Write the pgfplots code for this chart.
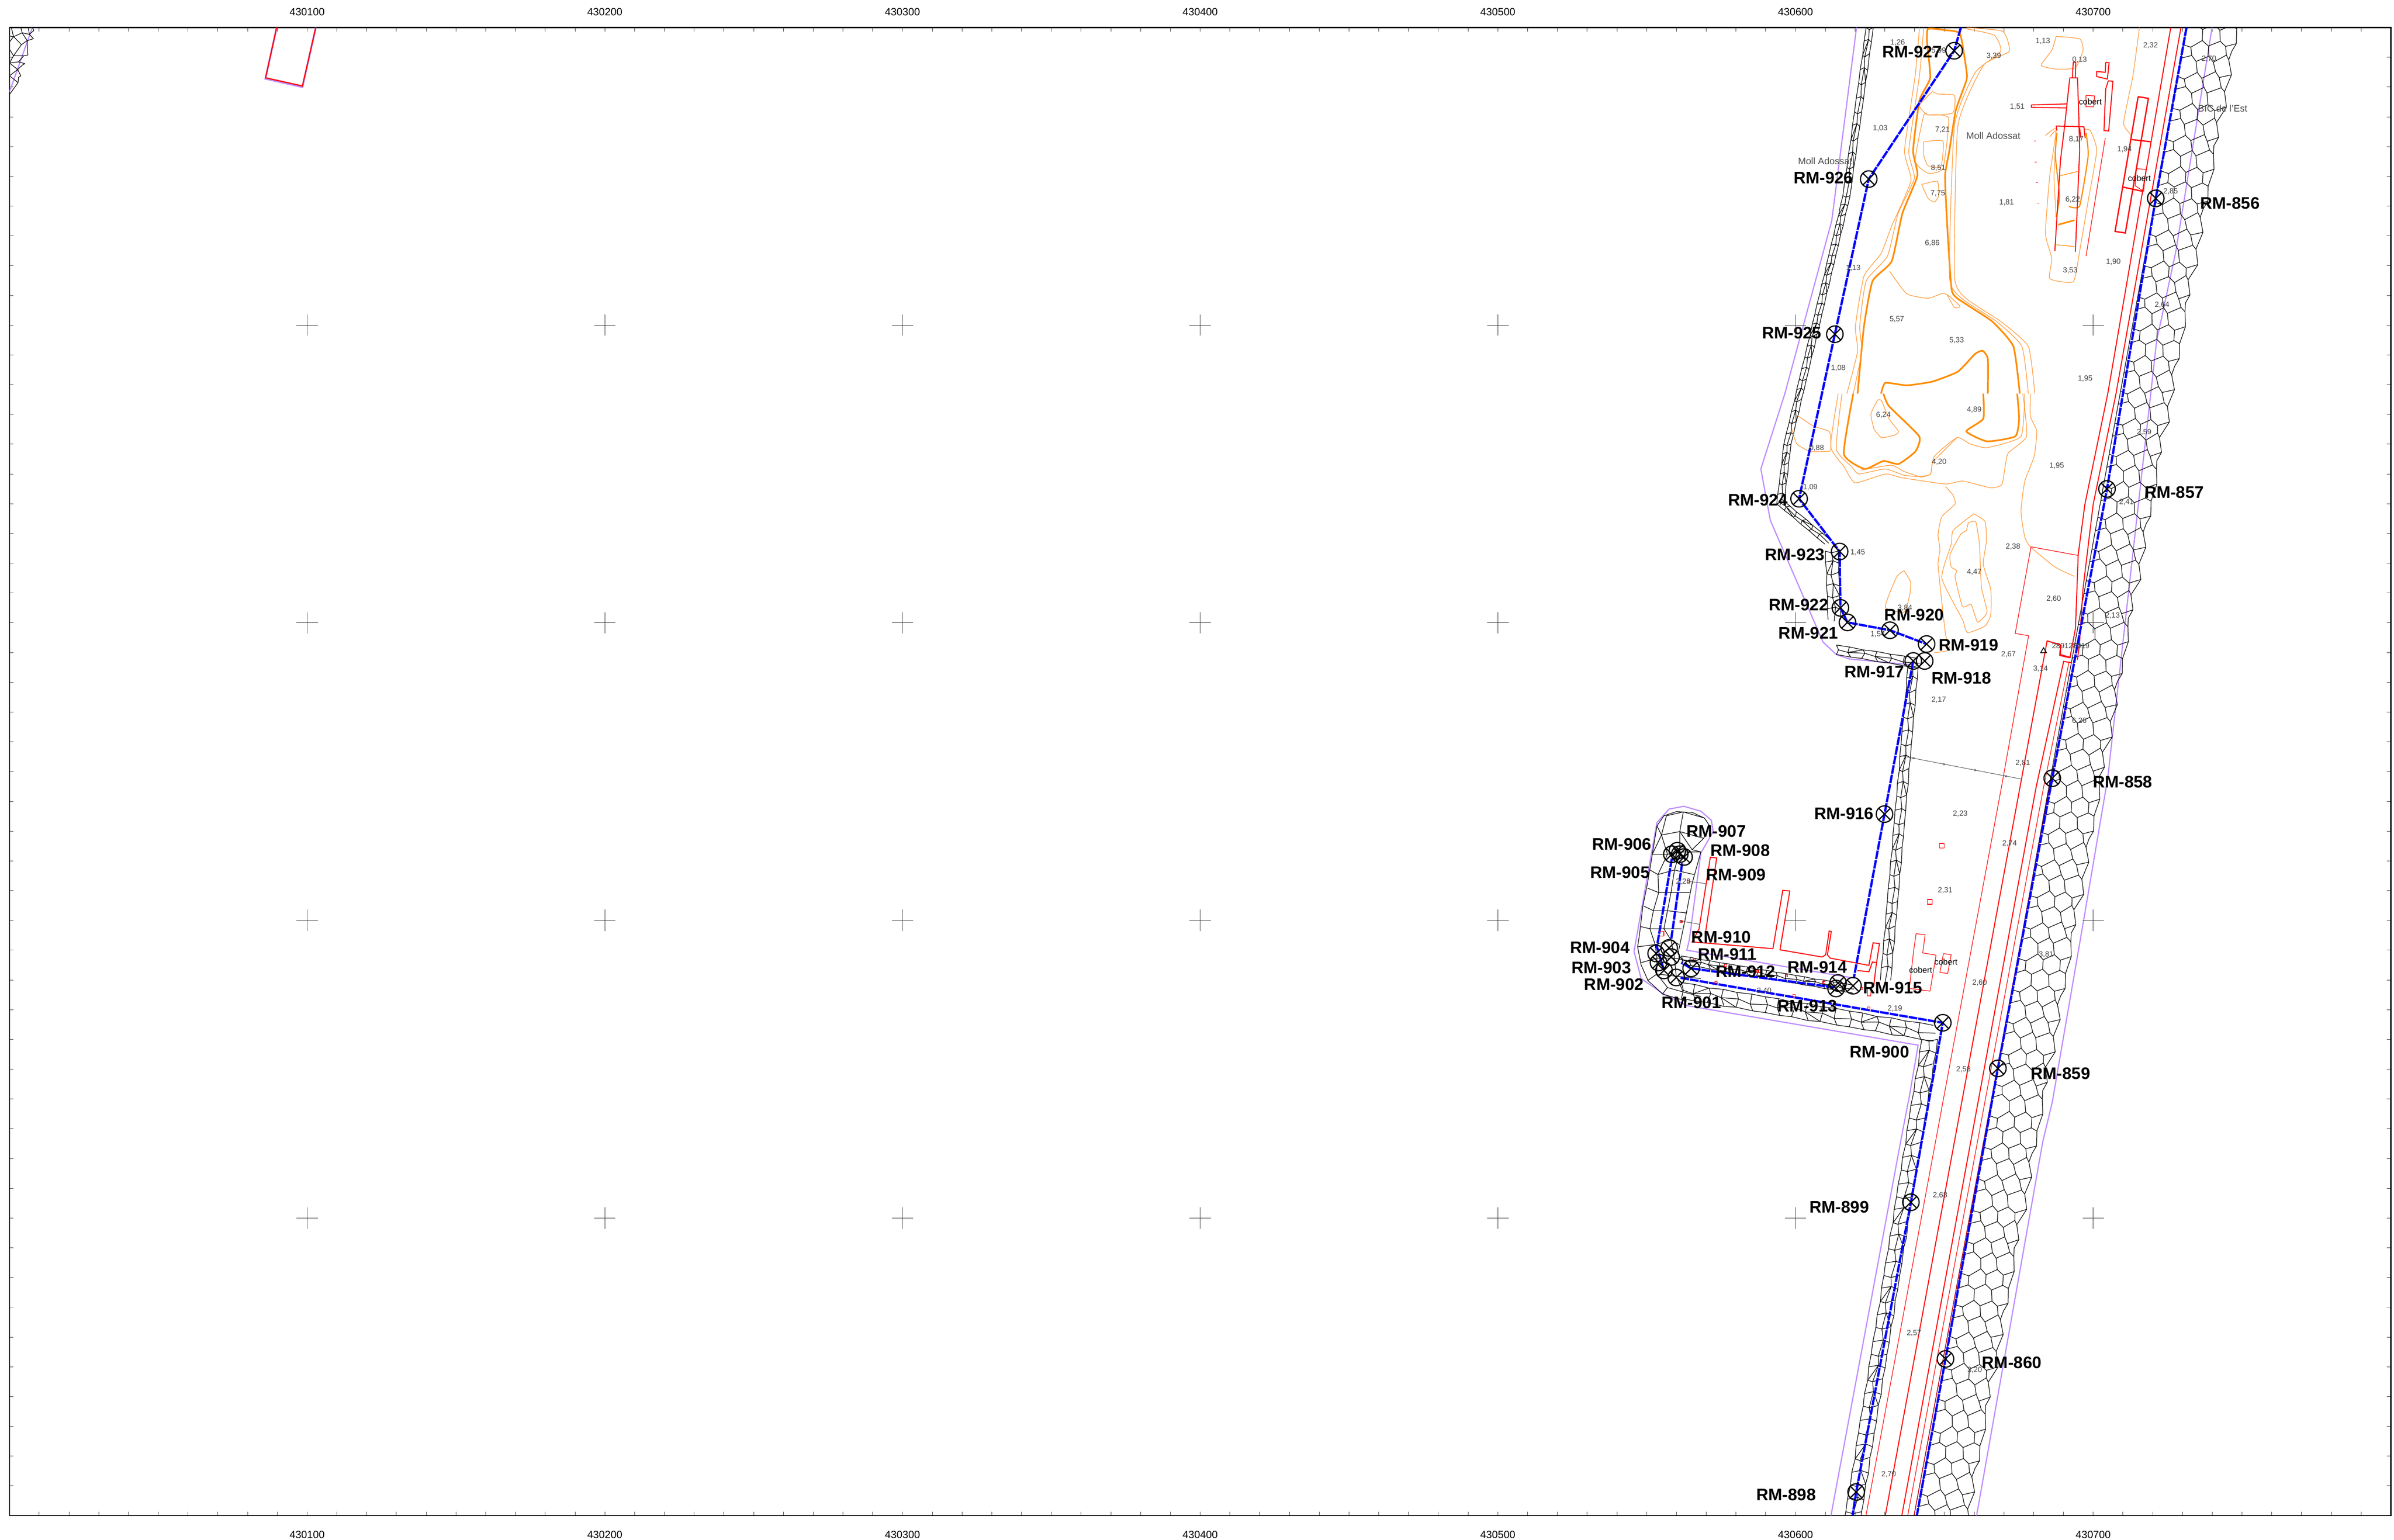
\documentclass[border=0pt]{standalone}
\usepackage{fontspec}
\setmainfont{Liberation Sans}
\usepackage{pgfplots}
\usepackage{pgfplotstable}
\pgfplotsset{compat=1.18}
\definecolor{pur}{RGB}{190,140,255}
\definecolor{ora}{RGB}{255,140,0}
\definecolor{orl}{RGB}{255,155,60}
\tikzset{
 rm/.style={font=\fontsize{4.25}{5}\selectfont\bfseries,inner sep=0pt,black,yshift=-.25pt},
 sp/.style={font=\fontsize{1.9}{2.3}\selectfont,inner sep=0pt,black!75},
 mo/.style={font=\fontsize{2.4}{2.9}\selectfont,inner sep=0pt,black!70},
 cb/.style={font=\fontsize{2.1}{2.5}\selectfont,inner sep=0pt,black},
}
\pgfplotsset{
 zone/.style n args={4}{x filter/.code={\pgfmathparse{(#1+\pgfmathresult/#3-24)/7.56}},y filter/.code={\pgfmathparse{(3850-#2-\pgfmathresult/#4)/7.56}}},
 zA/.style={zone={3900}{1900}{1.12}{1.742}},
 zB/.style={zone={4300}{0}{0.922}{1.568}},
 zC/.style={zone={0}{0}{1.742}{3}},
 zD/.style={zone={4300}{1000}{1.045}{1.568}},
 zE/.style={zone={4400}{2900}{0.933}{1.55}},
 zP/.style={zone={0}{0}{1}{1}},
 mesh line/.style={black,line width=.15pt,line join=round,no marks},
 thino/.style={orl,line width=.16pt,no marks,smooth,tension=.3},
 thicko/.style={ora,line width=.42pt,no marks,smooth,tension=.3},
 redl/.style={red,line width=.25pt,no marks},
 redt/.style={red,line width=.15pt,no marks},
 purl/.style={pur,line width=.3pt,no marks},
 pipe/.style={blue,line width=.58pt,dash pattern=on 2.2pt off .25pt,no marks},
}
\pgfplotstableread{
u v
0 2
24 -6
42 5
68 -8
86 7
112 -5
128 3
nan nan
0 44
20 50
46 33
64 47
92 35
108 48
134 41
nan nan
0 78
26 71
40 86
70 73
84 88
114 70
122 82
nan nan
0 124
18 131
48 114
62 129
94 112
106 127
136 120
nan nan
0 157
25 150
43 167
72 152
82 166
116 153
126 163
nan nan
0 205
21 210
50 193
66 208
90 196
110 211
138 202
nan nan
0 238
27 231
39 246
69 233
87 248
113 230
120 241
nan nan
0 284
19 290
47 274
63 287
95 272
105 289
132 279
nan nan
0 317
23 310
44 327
71 312
83 326
115 311
127 322
nan nan
0 364
22 371
49 353
65 368
91 355
109 369
135 360
nan nan
0 2
0 44
0 78
0 124
0 157
0 205
0 238
0 284
0 317
0 364
0 402
nan nan
128 3
134 41
126 60
122 82
136 120
126 163
132 182
138 202
120 241
132 279
124 300
127 322
135 360
128 403
nan nan
42 5
46 33
nan nan
86 7
92 35
nan nan
20 50
26 71
nan nan
64 47
70 73
nan nan
108 48
114 70
nan nan
40 86
48 114
nan nan
84 88
94 112
nan nan
18 131
25 150
nan nan
62 129
72 152
nan nan
106 127
116 153
nan nan
43 167
50 193
nan nan
82 166
90 196
nan nan
21 210
27 231
nan nan
66 208
69 233
nan nan
110 211
113 230
nan nan
39 246
47 274
nan nan
87 248
95 272
nan nan
19 290
23 310
nan nan
63 287
71 312
nan nan
105 289
115 311
nan nan
44 327
49 353
nan nan
83 326
91 355
nan nan
22 371
24 394
nan nan
65 368
68 392
nan nan
109 369
112 395
}\tileE
\pgfplotstableread{
u v
1 0
20 5
41 0
nan nan
0 32
24 28
42 35
nan nan
3 66
16 70
40 62
nan nan
0 100
22 95
43 102
nan nan
2 132
18 136
40 130
nan nan
0 168
26 164
42 170
nan nan
1 0
0 32
3 66
0 100
2 132
0 168
1 200
nan nan
20 5
24 28
16 70
22 95
18 136
26 164
20 205
nan nan
41 0
42 35
40 62
43 102
40 130
42 170
41 200
nan nan
24 28
3 66
nan nan
22 95
40 130
nan nan
26 164
0 168
}\tileW
\newcommand\strip[8]{\addplot[mesh line] table[x expr={(#2+(#4)*(\thisrow{v}+#8)+(#6)*\thisrow{u}-24)/7.56},y expr={(3850-(#3+(#5)*(\thisrow{v}+#8)+(#7)*\thisrow{u}))/7.56}] {#1};}
\newcommand\tx[4]{\node[#1] at (axis cs:{((#2)-24)/7.56},{(3850-(#3))/7.56}) {#4};}
\newcommand\Ta[4]{\tx{#1}{3900+#2/1.12}{1900+#3/1.742}{#4}}
\newcommand\Tb[4]{\tx{#1}{4300+#2/0.922}{#3/1.568}{#4}}
\newcommand\Td[4]{\tx{#1}{4300+#2/1.045}{1000+#3/1.568}{#4}}
\newcommand\Te[4]{\tx{#1}{4400+#2/0.933}{2900+#3/1.55}{#4}}
\begin{document}
\begin{tikzpicture}
\path[use as bounding box] (0,0) rectangle (608pt,391.1pt);
\begin{axis}[at={(2.4pt,6.1pt)},anchor=south west,width=604.8pt,height=378pt,scale only axis,
 xmin=0,xmax=800,ymin=0,ymax=500,unbounded coords=jump,
 axis line style={line width=.28pt,black},
 xtick={0,100,200,300,400,500,600,700,800},
 xticklabels={,430100,430200,430300,430400,430500,430600,430700,},
 ytick={0,100,200,300,400,500},yticklabels={},
 minor x tick num=9,minor y tick num=9,
 major tick length=1pt,minor tick length=1pt,
 tick align=inside,xtick pos=both,ytick pos=both,
 tick style={black!75,line width=.12pt},
 x tick label style={font=\fontsize{2.67}{3.2}\selectfont,inner sep=0pt,black},
 xticklabel shift=3.7pt]
% purple boundary
\addplot[purl,zP] coordinates {(4715,70)(4652,561)(4533,1000)(4472,1191)(4496,1322)(4630,1631)(4664,1663)(4697,1674)(4858,1689)};
\addplot[purl,zA] coordinates {(905,1018)(430,895)(437,850)(470,465)(505,370)(500,320)(470,280)(422,258)(380,270)(345,330)(280,900)(300,1020)(360,1085)(430,1140)(1088,1315)(1060,1568)};
\addplot[purl,zP] coordinates {(4846,2800)(4827,2900)(4650,3850)};
\addplot[purl,zP] coordinates {(5618,70)(5526,638)(5477,867)(5353,1976)(5295,2319)(5212,2800)(5188,2900)(5020,3850)};
\addplot[purl,zC] coordinates {(143,210)(42,700)};
\addplot[purl,zC,line width=.45pt] coordinates {(1224,210)(1174,600)(1338,664)(1397,210)};
% block mesh, east breakwater
\foreach \o in {0,400,800,1200,1600,2000,2400,2800,3200,3600}{\strip{\tileE}{5553}{70}{-0.1812}{1}{1}{0}{\o}}
% block mesh, west breakwater
\foreach \o in {0,200,400,600,800,1000,1200}{\strip{\tileW}{4880}{2640}{-0.161}{1}{1}{0}{\o}}
\foreach \o in {0,200,400}{\strip{\tileW}{4270}{2495}{1.067}{0.181}{0}{1}{\o}}
\foreach \o in {0,200,400}{\strip{\tileW}{4270}{2428}{0.725}{0.123}{0}{0.5}{\o}}
\foreach \o in {0,200}{\strip{\tileW}{4739}{70}{-0.148}{1.07}{0.45}{0}{\o}}
\foreach \o in {0,200}{\strip{\tileW}{4680}{497}{-0.178}{0.75}{0.45}{0}{\o}}
\foreach \o in {0,200}{\strip{\tileW}{4609}{797}{-0.198}{0.83}{0.45}{0}{\o}}
\strip{\tileW}{4530}{1128}{-0.09}{0.76}{0.45}{0}{0}
\strip{\tileW}{4512}{1280}{0.615}{0.515}{0.3}{-0.3}{0}
\strip{\tileW}{4635}{1400}{0.035}{0.87}{0.8}{0}{0}
\strip{\tileW}{4664}{1638}{1.03}{0.17}{0}{0.6}{0}
\foreach \o in {0,200,400,600}{\strip{\tileW}{4845}{1690}{-0.0875}{1}{0.65}{0}{\o}}
% dock end
\addplot[mesh line,zA] coordinates {(345,345)(365,300)(400,282)(445,285)(480,310)(495,345)(478,400)(445,450)(470,460)(445,600)(425,760)(405,910)(420,945)(nan,nan)
(345,345)(332,470)(318,600)(305,700)(295,830)(290,880)(300,960)(320,1030)(362,1090)(430,1120)(nan,nan)
(372,300)(358,385)(375,470)(348,560)(350,640)(335,720)(325,800)(340,870)(345,930)(345,1000)(375,1060)(nan,nan)
(420,283)(410,370)(410,460)(395,540)(385,640)(375,720)(365,800)(385,850)(395,930)(400,1010)(420,1080)(nan,nan)
(332,470)(375,470)(410,460)(470,460)(nan,nan)(325,540)(348,560)(395,540)(450,560)(nan,nan)
(318,620)(350,640)(385,640)(438,640)(nan,nan)(308,700)(335,720)(375,720)(428,730)(nan,nan)
(298,790)(325,800)(365,800)(415,800)(nan,nan)(290,880)(340,870)(385,850)(408,870)(nan,nan)
(300,950)(345,930)(395,930)(430,940)(nan,nan)(318,1030)(345,1000)(400,1010)(470,1020)(nan,nan)
(360,1090)(375,1060)(420,1080)(470,1100)(nan,nan)(345,345)(358,385)(410,370)(478,400)(nan,nan)
(372,300)(420,283)(480,310)(nan,nan)(358,385)(332,470)(nan,nan)(410,370)(445,450)};
% corner mesh upper left
\addplot[mesh line,zC] coordinates {(42,275)(60,280)(98,250)(130,262)(150,232)(143,210)(nan,nan)(50,210)(60,280)(95,340)(120,310)(98,250)(92,210)(nan,nan)(125,210)(130,262)(148,295)(120,310)(123,420)(105,425)(60,425)(95,340)(nan,nan)(42,320)(60,280)(nan,nan)(42,375)(60,425)(42,480)(82,472)(105,425)(nan,nan)(82,472)(110,485)(100,495)(78,530)(42,480)(nan,nan)(78,530)(92,578)(82,590)(80,630)(42,720)(nan,nan)(78,530)(42,578)(80,630)};
% contours
\addplot[thicko,zB] coordinates {(385,1568)(400,1300)(420,1120)(465,1040)(490,850)(525,700)(515,600)(530,400)(555,310)(548,170)(550,115)(590,120)(625,135)(640,280)(640,320)(615,440)(600,600)(590,700)(595,900)(605,1150)(620,1190)(700,1280)(750,1380)(765,1568)};
\addplot[thicko,zD] coordinates {(860,0)(865,100)(855,170)(780,190)(725,150)(770,100)(770,0)};
\addplot[thicko,zB] coordinates {(690,1568)(690,1430)(678,1397)(660,1410)(620,1480)(560,1520)(500,1535)(450,1525)(440,1568)};
\addplot[thicko,zD] coordinates {(505,0)(520,50)(600,170)(590,230)(545,280)(505,268)(455,300)(400,240)(425,0)};
\addplot[thino,zB] coordinates {(530,110)(520,300)(495,600)(510,720)(465,900)(440,1010)(400,1100)(380,1300)(385,1400)(360,1568)};
\addplot[thino,zD] coordinates {(385,0)(365,210)(400,290)(430,355)(510,320)(555,335)(670,360)(715,348)(790,375)(820,360)(835,240)(885,170)(875,0)};
\addplot[thino,zB] coordinates {(800,1568)(785,1380)(720,1280)(640,1190)(612,1100)(620,500)(680,260)(740,205)(725,125)(640,110)};
\addplot[thino,zB] coordinates {(540,110)(530,300)(505,600)(518,710)(480,850)(455,1020)(405,1120)(390,1300)(395,1400)(375,1568)};
\addplot[thino,zD] coordinates {(395,0)(380,220)(420,290)(440,320)(510,300)(560,325)(600,330)(630,320)(640,250)(700,175)(735,200)(780,215)(870,170)(880,0)};
\addplot[thino,zB] coordinates {(785,1568)(770,1380)(710,1280)(630,1190)(600,1100)(612,500)(660,290)(720,205)(705,140)(640,115)};
\addplot[thino,zB] coordinates {(550,458)(598,470)(585,670)(550,690)(520,640)(540,460)(550,458)};
\addplot[thino,zB] coordinates {(540,565)(585,562)(580,665)(550,660)(540,620)(540,565)};
\addplot[thino,zB] coordinates {(560,365)(575,375)(612,380)(608,450)(550,458)(530,420)(560,365)};
\addplot[thino,zB] coordinates {(535,735)(572,722)(575,780)(565,805)(550,790)(535,735)};
\addplot[thino,zB] coordinates {(825,540)(850,515)(835,700)(825,930)(840,1030)(835,1110)(890,1122)(905,1000)(925,800)(945,600)(930,520)(915,515)};
\addplot[thino,zB] coordinates {(835,545)(850,525)(845,700)(850,865)};
\addplot[thicko,zB,line width=.3pt] coordinates {(852,530)(848,620)(858,780)(850,865)};
\addplot[thicko,zB,line width=.3pt] coordinates {(920,530)(925,620)(905,820)(880,822)};
\addplot[thino,zB] coordinates {(850,145)(905,155)(913,200)(895,270)(850,275)(815,260)(840,200)(850,145)};
\addplot[thino,zB] coordinates {(1045,110)(1030,300)(1008,490)(1025,540)(1020,600)};
\addplot[thino,zB] coordinates {(460,1080)(500,1170)(550,1188)(585,1168)(600,1180)(625,1220)(612,1225)(595,1175)};
\addplot[thino,zD] coordinates {(275,85)(320,130)(362,152)(365,225)(350,230)(310,230)(275,200)(262,140)};
\addplot[thino,zD] coordinates {(490,25)(500,28)(520,100)(545,150)(535,165)(500,175)(480,140)(472,80)(490,25)};
\addplot[thino,zD] coordinates {(895,0)(895,90)(912,150)(905,250)(880,350)(870,470)(880,570)(895,610)(960,690)(1012,728)};
\addplot[thino,zD] coordinates {(670,370)(690,405)(695,440)(660,490)(650,560)(655,620)(650,680)(660,830)(670,960)(680,1020)(640,1032)};
\addplot[thino,zD] coordinates {(745,478)(775,510)(778,590)(770,680)(790,780)(790,880)(775,925)(728,952)(715,900)(660,735)(685,600)(690,545)(745,478)};
\addplot[thino,zD] coordinates {(730,515)(750,510)(760,600)(765,770)(780,870)(755,910)(738,840)(715,848)(695,730)(700,705)(685,690)(682,640)(710,560)(725,545)(730,515)};
\addplot[thino,zD] coordinates {(560,705)(577,750)(575,800)(560,870)(510,850)(540,730)(560,705)};
\addplot[thino,zD] coordinates {(700,175)(650,250)(635,275)(630,320)(605,332)(560,310)(525,285)(445,305)};
% red structures
\addplot[redl,zC,line width=.3pt] coordinates {(1224,210)(1175,593)(1338,655)(1397,210)};
\addplot[redt,zP] coordinates {(4739,3850)(5083,2000)(5152,1615)(5118,1609)(5158,1389)(5278,1411)};
\addplot[redl,zP] coordinates {(4788,3850)(5130,2000)(5199,1628)(5233,1638)(5231,1665)(5257,1671)};
\addplot[redl,zP] coordinates {(4830,3850)(5171,2000)(5241,1680)(5262,1684)};
\addplot[redt,zP] coordinates {(4845,3850)(5190,2000)(5255,1680)};
\addplot[red!70!black,line width=.2pt,zP] coordinates {(4861,3850)(5205,2000)(5268,1680)};
\addplot[redl,zP] coordinates {(5513,70)(5353,1000)(5295,1281)(5278,1408)(5271,1596)(5257,1671)};
\addplot[redl,zP] coordinates {(5539,70)(5374,1000)(5316,1281)(5290,1497)(5281,1638)(5276,1676)};
\addplot[redl,zP] coordinates {(5199,1628)(5233,1638)(5233,1663)(5259,1670)};
\addplot[redl,zA] coordinates {(497,483)(515,487)(484,810)(nan,nan)(497,483)(465,800)(445,858)(675,888)(703,630)(723,633)(695,893)(815,925)(825,915)(835,810)(841,812)(830,915)(838,930)(948,962)(960,862)(978,866)(968,970)(962,1050)(nan,nan)(915,985)(948,990)(958,947)(968,950)};
\addplot[redt,zA] coordinates {(1082,822)(1108,826)(1101,907)(1139,917)(1122,1076)(1063,1064)(1075,900)(1082,822)(nan,nan)(1160,910)(1182,915)(1172,998)(1150,993)(1160,910)(nan,nan)(945,1060)(955,1060)(953,1097)(943,1097)(945,1060)};
\addplot[redl,zB] coordinates {(890,248)(896,248)(895,310)(nan,nan)(888,310)(890,248)(nan,nan)(882,310)(900,310)(903,460)(905,600)(895,1003)(nan,nan)(882,310)(870,500)(860,640)(847,1000)(nan,nan)(792,418)(875,414)(nan,nan)(792,418)(792,428)(873,430)(nan,nan)(966,248)(974,250)(970,315)(945,305)(945,285)(965,288)(966,248)(nan,nan)(972,322)(983,324)(973,522)(962,520)(966,355)(972,322)(nan,nan)(850,502)(915,505)(918,550)(nan,nan)(850,502)(852,520)(nan,nan)(905,510)(908,550)};
\addplot[redt,zB] coordinates {(965,550)(920,1020)(nan,nan)(920,380)(940,382)(938,425)(920,425)(920,380)(nan,nan)(1038,672)(1060,675)(1055,762)(1035,740)(1038,672)};
\addplot[redl,zB,line width=.33pt] coordinates {(1042,385)(1066,392)(1012,928)(988,922)(1042,385)(nan,nan)(1027,556)(1073,565)(nan,nan)(1006,745)(1052,762)};
\addplot[ora,line width=.17pt,no marks,zB] coordinates {(860,700)(900,683)(nan,nan)(850,975)(893,982)};
\addplot[ora,line width=.4pt,no marks,zB] coordinates {(855,895)(893,877)};
\addplot[only marks,mark=square,mark size=.3pt,mark options={red,line width=.13pt},zA] coordinates {(434,590)(413,767)(452,940)(540,963)(631,988)(713,1008)(820,1038)(513,1040)(735,1097)(947,1152)(927,1065)};
\addplot[only marks,mark=square,mark size=.6pt,mark options={red,line width=.15pt},zA] coordinates {(1155,433)(1121,681)(358,822)};
\addplot[only marks,mark=-,mark size=.25pt,mark options={red,line width=.12pt},zB] coordinates {(800,562)(802,645)(805,728)(808,810)};
% thin survey lines
\addplot[black!70,line width=.12pt,no marks,zA] coordinates {(1040,35)(1380,137)(nan,nan)(435,590)(483,600)(nan,nan)(410,765)(465,780)};
\addplot[only marks,mark=x,mark size=.35pt,mark options={black!70,line width=.1pt},zA] coordinates {(1075,45)(1162,72)(1250,98)(1337,125)(413,767)};
% grid crosses
\addplot[only marks,mark=+,mark size=2.7pt,mark options={black!80,line width=.12pt}] coordinates {
(100,100)(200,100)(300,100)(400,100)(500,100)(600,100)(700,100)
(100,200)(200,200)(300,200)(400,200)(500,200)(600,200)(700,200)
(100,300)(200,300)(300,300)(400,300)(500,300)(600,300)(700,300)
(100,400)(200,400)(300,400)(400,400)(500,400)(600,400)(700,400)};
% sewer lines
\addplot[pipe,zP] coordinates {(5553,70)(5475,504)(5351,1242)(5212,1977)(5074,2714)(4941,3452)(4868,3850)};
\addplot[pipe,zP] coordinates {(4980,70)(4963,129)(4746,455)(4660,849)(4569,1267)(4672,1401)(4674,1544)(4692,1581)(4800,1601)(4893,1636)};
\addplot[pipe,zP] coordinates {(4859,1679)(4786,2068)(4708,2485)};
\addplot[pipe,zP] coordinates {(4659,2508)(4295,2460)(4270,2445)};
\addplot[pipe,zP] coordinates {(4246,2181)(4208,2405)(4226,2465)};
\addplot[pipe,zP] coordinates {(4272,2193)(4244,2388)};
\addplot[pipe,zP] coordinates {(4268,2484)(4934,2598)(4853,3054)(4714,3790)(4705,3850)};
% manholes
\addplot[only marks,mark=otimes,mark size=2.1pt,mark options={black,line width=.3pt},zP] coordinates {
(4963,129)(4746,455)(4660,849)(4569,1267)(4672,1401)(4674,1544)(4692,1581)(4800,1601)(4893,1636)(4888,1679)(4859,1679)(4786,2068)(4706,2504)(4663,2511)(4668,2497)(4295,2460)
(4239,2408)(4206,2422)(4244,2431)(4212,2445)(4226,2465)(4257,2483)(4934,2598)(4246,2170)(4260,2161)(4266,2170)(4277,2177)
(4853,3054)(4714,3790)(4941,3452)(5074,2714)(5212,1977)(5351,1242)(5475,504)};
\addplot[only marks,mark=triangle,mark size=.85pt,mark options={black,line width=.2pt},zD] coordinates {(930,1025)};
% bold labels
\Tb{rm}{513}{203}{RM-927}\Tb{rm}{305}{705}{RM-926}\Tb{rm}{231}{1322}{RM-925}\Tb{rm}{1257}{806}{RM-856}
\Td{rm}{172}{419}{RM-924}\Td{rm}{270}{637}{RM-923}\Td{rm}{280}{838}{RM-922}\Td{rm}{306}{949}{RM-921}
\Td{rm}{587}{877}{RM-920}\Td{rm}{731}{997}{RM-919}\Td{rm}{712}{1128}{RM-918}\Td{rm}{481}{1104}{RM-917}
\Td{rm}{1277}{390}{RM-857}\Td{rm}{1140}{1543}{RM-858}
\Ta{rm}{877}{286}{RM-916}\Ta{rm}{245}{421}{RM-906}\Ta{rm}{514}{364}{RM-907}\Ta{rm}{582}{450}{RM-908}
\Ta{rm}{570}{556}{RM-909}\Ta{rm}{240}{546}{RM-905}\Ta{rm}{528}{833}{RM-910}\Ta{rm}{183}{879}{RM-904}
\Ta{rm}{545}{908}{RM-911}\Ta{rm}{187}{968}{RM-903}\Ta{rm}{597}{985}{RM-912}\Ta{rm}{223}{1042}{RM-902}
\Ta{rm}{801}{966}{RM-914}\Ta{rm}{1016}{1056}{RM-915}\Ta{rm}{443}{1122}{RM-901}\Ta{rm}{773}{1138}{RM-913}
\Ta{rm}{978}{1340}{RM-900}\Ta{rm}{1493}{1437}{RM-859}
\Te{rm}{253}{254}{RM-899}\Te{rm}{662}{866}{RM-860}\Te{rm}{127}{1387}{RM-898}
% spot heights
\Tb{sp}{479}{170}{1,26}\Tb{sp}{575}{203}{5,99}\Tb{sp}{704}{223}{3,39}\Tb{sp}{819}{165}{1,13}\Tb{sp}{1071}{181}{2,32}\Tb{sp}{905}{238}{0,13}\Tb{sp}{1208}{235}{2,70}\Tb{sp}{759}{425}{1,51}\Tb{sp}{438}{511}{1,03}\Tb{sp}{584}{516}{7,21}\Tb{sp}{897}{555}{8,17}\Tb{sp}{1010}{595}{1,94}\Tb{sp}{574}{669}{8,51}\Tb{sp}{573}{771}{7,75}\Tb{sp}{1118}{762}{2,85}\Tb{sp}{734}{806}{1,81}\Tb{sp}{889}{795}{6,22}\Tb{sp}{560}{968}{6,86}\Tb{sp}{375}{1068}{1,13}\Tb{sp}{883}{1078}{3,53}\Tb{sp}{984}{1044}{1,90}\Tb{sp}{1098}{1214}{2,64}\Tb{sp}{477}{1272}{5,57}\Tb{sp}{617}{1355}{5,33}\Tb{sp}{340}{1467}{1,08}\Tb{sp}{918}{1509}{1,95}
\Td{sp}{746}{64}{4,89}\Td{sp}{505}{86}{6,24}\Td{sp}{1197}{153}{2,59}\Td{sp}{328}{216}{0,88}\Td{sp}{653}{273}{4,20}\Td{sp}{965}{287}{1,95}\Td{sp}{311}{373}{1,09}\Td{sp}{1150}{432}{2,41}\Td{sp}{437}{632}{1,45}\Td{sp}{849}{610}{2,38}\Td{sp}{746}{711}{4,47}\Td{sp}{957}{818}{2,60}\Td{sp}{562}{853}{3,84}\Td{sp}{1113}{885}{2,13}\Td{sp}{490}{958}{1,54}\Td{sp}{837}{1038}{2,67}\Td{sp}{922}{1096}{3,14}\Td{sp}{652}{1220}{2,17}\Td{sp}{1025}{1303}{6,26}\Td{sp}{875}{1472}{2,81}
\Ta{sp}{1208}{292}{2,23}\Ta{sp}{1348}{422}{2,74}\Ta{sp}{1165}{630}{2,31}\Ta{sp}{420}{592}{2,28}\Ta{sp}{1452}{915}{3,81}\Ta{sp}{1263}{1040}{2,60}\Ta{sp}{650}{1075}{2,40}\Ta{sp}{1022}{1153}{2,19}\Ta{sp}{1217}{1423}{2,58}
\Te{sp}{492}{212}{2,68}\Te{sp}{430}{755}{2,57}\Te{sp}{574}{899}{3,20}\Te{sp}{370}{1310}{2,70}
% place names
\Tb{mo}{703}{541}{Moll Adossat}\Tb{mo}{309}{642}{Moll Adossat}\Tb{mo}{1240}{432}{BIC de l'Est}
\Tb{cb}{930}{405}{cobert}\Tb{cb}{1045}{710}{cobert}\Ta{cb}{1095}{982}{cobert}\Ta{cb}{1167}{947}{cobert}
\Td{sp}{1002}{1005}{289128019}
\end{axis}
\begin{axis}[at={(2.4pt,6.1pt)},anchor=south west,width=604.8pt,height=378pt,scale only axis,
 xmin=0,xmax=800,ymin=0,ymax=500,axis line style={draw=none},
 xtick={100,200,300,400,500,600,700},
 xticklabels={430100,430200,430300,430400,430500,430600,430700},
 ytick=\empty,xticklabel pos=right,major tick length=0pt,
 x tick label style={font=\fontsize{2.67}{3.2}\selectfont,inner sep=0pt,black},
 xticklabel shift=2.8pt]
\end{axis}
\end{tikzpicture}
\end{document}
